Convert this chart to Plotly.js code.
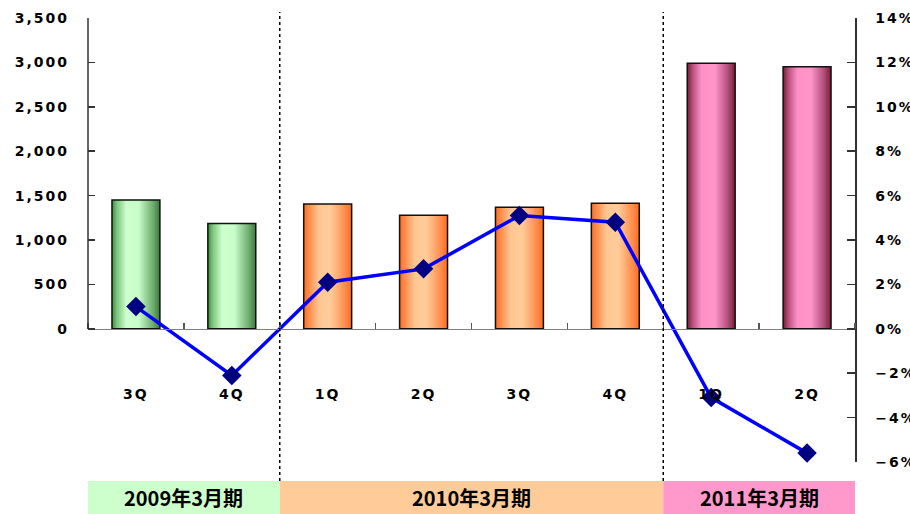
<!DOCTYPE html>
<html>
<head>
<meta charset="utf-8">
<script src="https://cdn.plot.ly/plotly-3.0.1.min.js"></script>
<style>
html,body{margin:0;padding:0;background:#fff;}
#chart{width:910px;height:514px;}
</style>
</head>
<body>
<div id="chart"></div>
<script>
// ---- data ----
const quarters = ['3Q','4Q','1Q','2Q','3Q','4Q','1Q','2Q'];
const salesValues = [1450, 1185, 1405, 1280, 1370, 1415, 2990, 2950];
const marginPct = [1.0, -2.1, 2.1, 2.7, 5.1, 4.8, -3.1, -5.6];
const periodOf = [0, 0, 1, 1, 1, 1, 2, 2];
const periods = ['2009年3月期', '2010年3月期', '2011年3月期'];
const periodFirst = [0, 2, 6];
const periodLast = [1, 5, 7];
const leftTicks = [0, 500, 1000, 1500, 2000, 2500, 3000, 3500];

// ---- styles ----
const bandColors = ['#CCFFCC', '#FFCC99', '#FF99CC'];
const barBase = ['#8FD08F', '#FF9955', '#C0507A'];
const gradStops = [
  [[0,'#3A8A3A'],[0.1,'#7CC47C'],[0.3,'#CCFFCC'],[0.56,'#C8FCC8'],[0.85,'#6FAF6F'],[1,'#3A7A3A']],
  [[0,'#FF6A1F'],[0.12,'#FF8F4F'],[0.32,'#FFC794'],[0.56,'#FFCC99'],[0.85,'#FF8F4F'],[1,'#FF6A1F']],
  [[0,'#7A1C35'],[0.12,'#B8557F'],[0.3,'#FF90C6'],[0.58,'#FF94C8'],[0.85,'#B0507A'],[1,'#7A1C35']]
];
const FONT = 'DejaVu Sans, Liberation Sans, sans-serif';
const CJK = 'Noto Sans CJK JP, Noto Sans CJK SC, sans-serif';

const idx = quarters.map((_, i) => i);

const bars = {
  type: 'bar',
  x: idx,
  y: salesValues,
  width: 0.5,
  marker: {
    color: periodOf.map(p => barBase[p]),
    line: {color: '#111', width: 1.5}
  },
  yaxis: 'y',
  hoverinfo: 'skip'
};

const line = {
  type: 'scatter',
  mode: 'lines+markers',
  x: idx,
  y: marginPct,
  yaxis: 'y2',
  line: {color: '#0000FF', width: 3.5},
  marker: {symbol: 'diamond', size: 15, color: '#000080'},
  cliponaxis: false,
  hoverinfo: 'skip'
};

const shapes = [];
// period bands
periods.forEach((p, k) => {
  shapes.push({
    type: 'rect', xref: 'x', yref: 'paper',
    x0: periodFirst[k] - 0.5, x1: periodLast[k] + 0.5,
    y0: -0.117, y1: -0.0428,
    fillcolor: bandColors[k], line: {width: 0}, layer: 'below'
  });
});
// dotted separators between periods
for (let k = 1; k < periods.length; k++) {
  shapes.push({
    type: 'line', xref: 'x', yref: 'paper',
    x0: periodFirst[k] - 0.5, x1: periodFirst[k] - 0.5,
    y0: -0.0428, y1: 1.0135,
    line: {color: '#000', width: 1.5, dash: 'dot'}
  });
}
// left axis line (only over the positive part)
shapes.push({
  type: 'line', xref: 'paper', yref: 'y',
  x0: 0, x1: 0, y0: 0, y1: leftTicks[leftTicks.length - 1],
  line: {color: '#333', width: 1.5}
});

const annotations = periods.map((p, k) => ({
  text: p, xref: 'x', yref: 'paper',
  x: (periodFirst[k] + periodLast[k]) / 2, y: -0.08,
  yanchor: 'middle', xanchor: 'center', showarrow: false,
  font: {family: CJK, size: 20, color: '#000', weight: 'bold'}
}));

const tickFont = {family: FONT, size: 14, color: '#000', weight: 'bold'};

const layout = {
  width: 910, height: 514,
  margin: {l: 88, r: 55, t: 18, b: 52},
  paper_bgcolor: '#fff', plot_bgcolor: 'rgba(0,0,0,0)',
  showlegend: false,
  xaxis: {
    type: 'linear', range: [-0.5, 7.5],
    anchor: 'free', position: 0.3,
    showline: true, linecolor: '#808080', linewidth: 1.5,
    tickmode: 'array', tickvals: idx, ticktext: quarters,
    ticks: '', showgrid: false, zeroline: false,
    ticklabelstandoff: 52,
    tickfont: tickFont,
    minor: {ticks: 'inside', tick0: 0.5, dtick: 1, ticklen: 6, tickcolor: '#555', tickwidth: 1.5, showgrid: false}
  },
  yaxis: {
    range: [-1500, 3500],
    tickmode: 'array', tickvals: leftTicks,
    tickformat: ',d',
    ticks: 'inside', ticklen: 7, tickcolor: '#333', tickwidth: 1.5,
    showline: false, showgrid: false, zeroline: false,
    ticklabelstandoff: 18,
    tickfont: tickFont
  },
  yaxis2: {
    overlaying: 'y', side: 'right',
    range: [-6, 14], dtick: 2, tick0: 0,
    ticksuffix: '%',
    ticks: 'inside', ticklen: 8, tickcolor: '#333', tickwidth: 1.5,
    showline: true, linecolor: '#333', linewidth: 1.5,
    showgrid: false, zeroline: false,
    ticklabelstandoff: 16,
    tickfont: tickFont
  },
  shapes: shapes,
  annotations: annotations
};

Plotly.newPlot('chart', [bars, line], layout, {staticPlot: true}).then(gd => {
  const svg = gd.querySelector('.main-svg');
  let defs = svg.querySelector('defs');
  const NS = 'http://www.w3.org/2000/svg';
  gradStops.forEach((stops, k) => {
    const g = document.createElementNS(NS, 'linearGradient');
    g.setAttribute('id', 'barGrad' + k);
    g.setAttribute('x1', '0'); g.setAttribute('x2', '1');
    g.setAttribute('y1', '0'); g.setAttribute('y2', '0');
    stops.forEach(([o, c]) => {
      const s = document.createElementNS(NS, 'stop');
      s.setAttribute('offset', o);
      s.setAttribute('stop-color', c);
      g.appendChild(s);
    });
    defs.appendChild(g);
  });
  gd.querySelectorAll('.barlayer .point path').forEach((p, i) => {
    p.style.setProperty('fill', 'url(#barGrad' + periodOf[i] + ')');
  });
  gd.querySelectorAll('.xtick text, .ytick text, .y2tick text').forEach(t => {
    t.style.letterSpacing = '2px';
  });
});
</script>
</body>
</html>
